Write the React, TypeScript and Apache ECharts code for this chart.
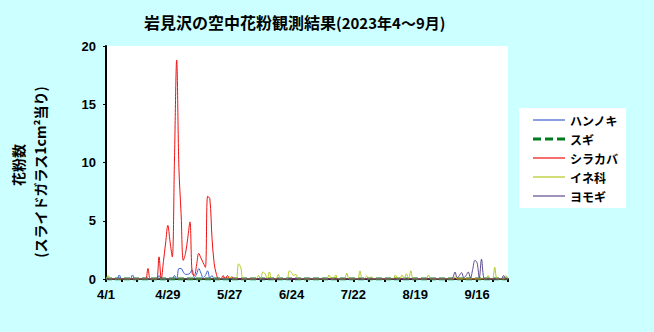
import React, { useEffect, useRef } from "react";
import * as echarts from "echarts";

const titleMain = "岩見沢の空中花粉観測結果";
const titleSub = "(2023年4～9月)";
const yName1 = "花粉数";
const yName2 = "(スライドガラス1cm²当り)";

const months = [4, 5, 6, 7, 8, 9];
const monthLengths = [30, 31, 30, 31, 31, 30];
const dates: string[] = [];
months.forEach((m, k) => {
  for (let d = 1; d <= monthLengths[k]; d++) dates.push(`${m}/${d}`);
});

const tickLabels = ["4/1", "4/29", "5/27", "6/24", "7/22", "8/19", "9/16"];
const seriesNames = ["ハンノキ", "スギ", "シラカバ", "イネ科", "ヨモギ"];

// 4/1 .. 9/30, 183 daily values each
const hannoki = [
  0, 0, 0, 0, 0, 0, 0.35, 0, 0, 0,
  0, 0, 0.35, 0, 0, 0, 0, 0, 0, 0,
  0, 0, 0, 0, 0.3, 0, 0, 0, 0, 0,
  0, 0.3, 0, 0.9, 0.9, 0.6, 0.4, 0.4, 0.5, 0.8,
  0.1, 0.4, 0.9, 0.5, 0.1, 0.3, 0.7, 0.1, 0.3, 0,
  0, 0, 0, 0, 0, 0, 0, 0, 0, 0,
  0, 0, 0, 0, 0, 0, 0, 0, 0, 0,
  0, 0, 0, 0, 0, 0, 0, 0, 0, 0,
  0, 0, 0, 0, 0, 0, 0, 0, 0, 0,
  0, 0, 0, 0, 0, 0, 0, 0, 0, 0,
  0, 0, 0, 0, 0, 0, 0, 0, 0, 0,
  0, 0, 0, 0, 0, 0, 0, 0, 0, 0,
  0, 0, 0, 0, 0, 0, 0, 0, 0, 0,
  0, 0, 0, 0, 0, 0, 0, 0, 0, 0,
  0, 0, 0, 0, 0, 0, 0, 0, 0, 0,
  0, 0, 0, 0, 0, 0, 0, 0, 0, 0,
  0, 0, 0, 0, 0, 0, 0, 0, 0, 0,
  0, 0, 0, 0, 0, 0, 0, 0, 0, 0,
  0, 0, 0,
];

const sugi = [
  0, 0, 0, 0, 0, 0, 0, 0, 0, 0,
  0, 0, 0, 0, 0, 0, 0, 0, 0, 0,
  0, 0, 0, 0, 0, 0, 0, 0, 0, 0,
  0, 0, 0, 0, 0, 0, 0, 0, 0, 0,
  0, 0, 0, 0, 0, 0, 0, 0, 0, 0,
  0, 0, 0, 0, 0, 0, 0, 0, 0, 0,
  0, 0, 0, 0, 0, 0, 0, 0, 0, 0,
  0, 0, 0, 0, 0, 0, 0, 0, 0, 0,
  0, 0, 0, 0, 0, 0, 0, 0, 0, 0,
  0, 0, 0, 0, 0, 0, 0, 0, 0, 0,
  0, 0, 0, 0, 0, 0, 0, 0, 0, 0,
  0, 0, 0, 0, 0, 0, 0, 0, 0, 0,
  0, 0, 0, 0, 0, 0, 0, 0, 0, 0,
  0, 0, 0, 0, 0, 0, 0, 0, 0, 0,
  0, 0, 0, 0, 0, 0, 0, 0, 0, 0,
  0, 0, 0, 0, 0, 0, 0, 0, 0, 0,
  0, 0, 0, 0, 0, 0, 0, 0, 0, 0,
  0, 0, 0, 0, 0, 0, 0, 0, 0, 0,
  0, 0, 0,
];

const shirakaba = [
  0, 0, 0, 0, 0, 0, 0, 0, 0, 0,
  0, 0, 0, 0, 0, 0, 0, 0, 0, 0.9,
  0, 0, 0, 0, 1.9, 0, 1.5, 3.1, 4.6, 3.2,
  1.9, 10.3, 18.8, 9.6, 5.6, 1.6, 2.2, 3.5, 4.9, 0.5,
  0.3, 1.2, 2.2, 1.8, 1.4, 1.0, 7.1, 6.9, 3.5, 1.3,
  0.4, 0, 0, 0.3, 0, 0.3, 0, 0.2, 0, 0,
  0, 0, 0, 0, 0, 0, 0, 0, 0, 0,
  0, 0, 0, 0, 0, 0, 0, 0, 0, 0,
  0, 0, 0, 0, 0, 0, 0, 0, 0, 0,
  0, 0, 0, 0, 0, 0, 0, 0, 0, 0,
  0, 0, 0, 0, 0, 0, 0, 0, 0, 0,
  0, 0, 0, 0, 0, 0, 0, 0, 0, 0,
  0, 0, 0, 0, 0, 0, 0, 0, 0, 0,
  0, 0, 0, 0, 0, 0, 0, 0, 0, 0,
  0, 0, 0, 0, 0, 0, 0, 0, 0, 0,
  0, 0, 0, 0, 0, 0, 0, 0, 0, 0,
  0, 0, 0, 0, 0, 0, 0, 0, 0, 0,
  0, 0, 0, 0, 0, 0, 0, 0, 0, 0,
  0, 0, 0,
];

const ine = [
  0, 0.3, 0, 0, 0, 0, 0, 0, 0, 0,
  0, 0, 0, 0, 0, 0, 0, 0, 0, 0,
  0, 0, 0, 0, 0, 0, 0, 0, 0, 0,
  0, 0, 0, 0, 0, 0, 0, 0, 0, 0,
  0, 0, 0, 0, 0, 0, 0, 0, 0, 0,
  0, 0, 0, 0, 0, 0, 0.2, 0, 0, 0,
  1.3, 1.0, 0, 0, 0, 0, 0, 0, 0, 0.3,
  0, 0.6, 0.45, 0, 0.6, 0, 0, 0, 0.4, 0,
  0, 0, 0, 0.7, 0.55, 0.3, 0.4, 0, 0, 0,
  0, 0, 0, 0, 0, 0, 0, 0, 0, 0,
  0, 0.35, 0, 0, 0.35, 0, 0, 0, 0, 0.5,
  0, 0, 0, 0, 0, 0.7, 0, 0, 0.26, 0,
  0.2, 0, 0, 0, 0, 0, 0, 0, 0, 0,
  0, 0.35, 0, 0, 0.35, 0, 0.45, 0, 0.7, 0,
  0, 0, 0, 0, 0, 0, 0.35, 0, 0, 0,
  0, 0, 0, 0, 0, 0, 0, 0, 0.2, 0,
  0, 0, 0, 0, 0, 0, 0, 0, 0, 0,
  0, 0, 0, 0.3, 0, 0, 1.0, 0, 0, 0,
  0, 0.3, 0,
];

const yomogi = [
  0, 0, 0, 0, 0, 0, 0, 0, 0, 0,
  0, 0, 0, 0, 0, 0, 0, 0, 0, 0,
  0, 0, 0, 0, 0, 0, 0, 0, 0, 0,
  0, 0, 0, 0, 0, 0, 0, 0, 0, 0,
  0, 0, 0, 0, 0, 0, 0, 0, 0, 0,
  0, 0, 0, 0, 0, 0, 0, 0, 0, 0,
  0, 0, 0, 0, 0, 0, 0, 0, 0, 0,
  0, 0, 0, 0, 0, 0, 0, 0, 0, 0,
  0, 0, 0, 0, 0, 0, 0, 0, 0, 0,
  0, 0, 0, 0, 0, 0, 0, 0, 0, 0,
  0, 0, 0, 0, 0, 0, 0, 0, 0, 0,
  0, 0, 0, 0, 0, 0, 0, 0, 0, 0,
  0, 0, 0, 0, 0, 0, 0, 0, 0, 0,
  0, 0, 0, 0, 0, 0, 0, 0, 0, 0,
  0, 0, 0, 0, 0, 0, 0, 0, 0, 0,
  0, 0, 0, 0, 0, 0, 0, 0.1, 0.6, 0.1,
  0.3, 0.55, 0.1, 0.3, 0.6, 0.1, 0.8, 1.6, 1.4, 0.1,
  1.7, 0.1, 0, 0, 0, 0, 0, 0, 0, 0,
  0.3, 0, 0,
];

const seriesData = [hannoki, sugi, shirakaba, ine, yomogi];
const colors = ["#3a62d0", "#007a1e", "#f01010", "#b4c81e", "#5e4b8e"];

const FONT = "'Noto Sans CJK JP', 'Liberation Sans', sans-serif";
const SOLID_ICON = "path://M0,0h32v1.2h-32z";
const DASH_ICON = "path://M0,0h8v3h-8zM12,0h8v3h-8zM24,0h8v3h-8z";

export default function App() {
  const ref = useRef<HTMLDivElement>(null);
  useEffect(() => {
    document.body.style.margin = "0";
    const chart = echarts.init(ref.current!, null, { renderer: "svg" });
    chart.setOption({
      animation: false,
      backgroundColor: "#ccffff",
      textStyle: { fontFamily: FONT },
      title: {
        text: `{a|${titleMain}}{b|${titleSub}}`,
        left: 139,
        top: 9,
        textStyle: {
          rich: {
            a: { fontSize: 16, fontWeight: "bold", fontFamily: FONT, color: "#000" },
            b: { fontSize: 15, fontWeight: "bold", fontFamily: FONT, color: "#000" },
          },
        },
      },
      graphic: [
        {
          type: "text",
          x: 18,
          y: 165,
          rotation: Math.PI / 2,
          style: {
            text: yName1,
            fontSize: 14,
            fontWeight: "bold",
            fontFamily: FONT,
            fill: "#000",
            align: "center",
            verticalAlign: "middle",
          },
        },
        {
          type: "text",
          x: 40,
          y: 172,
          rotation: Math.PI / 2,
          style: {
            text: yName2,
            fontSize: 14,
            fontWeight: "bold",
            fontFamily: FONT,
            fill: "#000",
            align: "center",
            verticalAlign: "middle",
          },
        },
      ],
      legend: {
        orient: "vertical",
        left: 519,
        top: 108,
        backgroundColor: "#ffffff",
        padding: [6, 8, 6, 14],
        itemWidth: 32,
        itemHeight: 12,
        itemGap: 7,
        textStyle: { fontSize: 12, fontWeight: "bold", color: "#000", fontFamily: FONT },
        data: seriesNames.map((name) => ({
          name,
          icon: name === "スギ" ? DASH_ICON : SOLID_ICON,
        })),
      },
      grid: {
        left: 106,
        right: 146,
        top: 46,
        bottom: 53,
        show: true,
        backgroundColor: "#ffffff",
        borderWidth: 0,
      },
      xAxis: {
        type: "category",
        data: dates,
        boundaryGap: false,
        axisLine: { lineStyle: { color: "#000", width: 2 } },
        axisTick: {
          interval: (i: number) => i % 7 === 0,
          length: 3,
          lineStyle: { color: "#000", width: 2 },
        },
        axisLabel: {
          interval: (_i: number, v: string) => tickLabels.includes(v),
          color: "#000",
          fontSize: 13,
          fontWeight: "bold",
          fontFamily: "'Liberation Sans', sans-serif",
          margin: 9,
        },
        splitLine: { show: false },
      },
      yAxis: {
        type: "value",
        min: 0,
        max: 20,
        interval: 5,
        axisLine: { show: true, lineStyle: { color: "#000", width: 2 } },
        axisTick: { show: true, length: 3, lineStyle: { color: "#000", width: 1 } },
        axisLabel: {
          color: "#000",
          fontSize: 13,
          fontWeight: "bold",
          fontFamily: "'Liberation Sans', sans-serif",
          margin: 10,
        },
        splitLine: { show: false },
      },
      series: seriesNames.map((name, k) => ({
        name,
        type: "line",
        data: seriesData[k],
        smooth: 0.35,
        symbol: "none",
        color: colors[k],
        lineStyle:
          name === "スギ"
            ? { color: colors[k], width: 3, type: [6, 3] }
            : { color: colors[k], width: 1 },
        z: name === "スギ" ? 1 : 2,
      })),
    });
    return () => chart.dispose();
  }, []);
  return (
    <div
      ref={ref}
      style={{ width: 654, height: 332, position: "fixed", left: 0, top: 0 }}
    />
  );
}
